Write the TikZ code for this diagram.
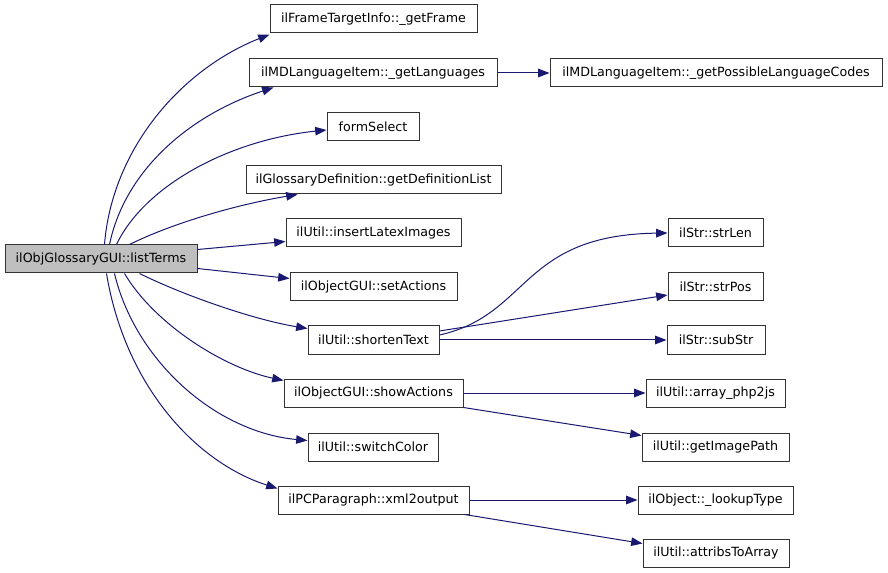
\documentclass[tikz,border=0pt]{standalone}
\usepackage{fontspec}
\setmainfont{DejaVu Sans}
\usetikzlibrary{arrows.meta,calc}
\definecolor{edgecol}{HTML}{191970}
\definecolor{mainfill}{HTML}{BFBFBF}
\tikzset{
  box/.style={draw=black!80, line width=0.75pt, fill=white, inner sep=0pt,
    minimum height=21pt, font=\fontsize{9.5pt}{11pt}\selectfont},
  bw/.style={minimum width=#1*0.75pt},
  e/.style={draw=edgecol, line width=0.75pt, -{Triangle[length=8.5pt,width=6.4pt]}, fill=none}
}
\begin{document}
\begin{tikzpicture}[x=0.75pt,y=-0.75pt]
\useasboundingbox (0,0) rectangle (888,573);
\node[box,bw=192,fill=mainfill] (main) at (101,259) {ilObjGlossaryGUI::listTerms};
\node[box,bw=207] (frame) at (373.5,19) {ilFrameTargetInfo::\_getFrame};
\node[box,bw=248] (lang) at (373,73) {ilMDLanguageItem::\_getLanguages};
\node[box,bw=92] (form) at (373,127) {formSelect};
\node[box,bw=255] (def) at (373.5,180) {ilGlossaryDefinition::getDefinitionList};
\node[box,bw=175] (latex) at (373.5,233) {ilUtil::insertLatexImages};
\node[box,bw=167] (setact) at (373.5,287) {ilObjectGUI::setActions};
\node[box,bw=131] (shorten) at (373.5,340) {ilUtil::shortenText};
\node[box,bw=179] (showact) at (373.5,393) {ilObjectGUI::showActions};
\node[box,bw=130] (switch) at (373,447) {ilUtil::switchColor};
\node[box,bw=191] (xml) at (373.5,500) {ilPCParagraph::xml2output};
\node[box,bw=332] (poss) at (716,73) {ilMDLanguageItem::\_getPossibleLanguageCodes};
\node[box,bw=95] (strlen) at (715.5,233) {ilStr::strLen};
\node[box,bw=95] (strpos) at (715.5,287) {ilStr::strPos};
\node[box,bw=98] (substr) at (716,340) {ilStr::subStr};
\node[box,bw=139] (php2js) at (715.5,393) {ilUtil::array\_php2js};
\node[box,bw=147] (imgpath) at (715.5,447) {ilUtil::getImagePath};
\node[box,bw=155] (lookup) at (715.5,500) {ilObject::\_lookupType};
\node[box,bw=146] (attribs) at (716,553) {ilUtil::attribsToArray};
% edges from main
\draw[e] ($(main.north west)+(100,0)$) .. controls (112,150) and (180,70) .. ($(frame.south west)+(0,1)$);
\draw[e] ($(main.north west)+(105,0)$) .. controls (125,170) and (190,115) .. ($(lang.south west)+(25,0)$);
\draw[e] ($(main.north west)+(112,0)$) .. controls (145,185) and (230,140) .. ($(form.west)+(0,3)$);
\draw[e] ($(main.north west)+(125,0)$) .. controls (175,222) and (240,204) .. ($(def.south west)+(52,0)$);
\draw[e] ($(main.north east)+(0,5)$) -- ($(latex.south west)+(0,-6)$);
\draw[e] ($(main.south east)+(0,-5)$) -- ($(setact.north west)+(0,6)$);
\draw[e] ($(main.south west)+(135,0)$) .. controls (185,296) and (255,320) .. ($(shorten.north west)+(0,3)$);
\draw[e] ($(main.south west)+(120,0)$) .. controls (155,325) and (225,368) .. ($(showact.north west)+(0,2)$);
\draw[e] ($(main.south west)+(110,0)$) .. controls (135,360) and (215,432) .. ($(switch.north west)+(0,8)$);
\draw[e] ($(main.south west)+(102,0)$) .. controls (125,385) and (195,462) .. ($(xml.north west)+(0,3)$);
% second level
\draw[e] (lang.east) -- (poss.west);
\draw[e] ($(shorten.east)+(0,-5)$) .. controls (530,315) and (520,235) .. (strlen.west);
\draw[e] ($(shorten.east)+(0,-9)$) -- ($(strpos.west)+(0,8)$);
\draw[e] (shorten.east) -- (substr.west);
\draw[e] (showact.east) -- (php2js.west);
\draw[e] (showact.south east) -- ($(imgpath.north west)+(0,3)$);
\draw[e] (xml.east) -- (lookup.west);
\draw[e] ($(xml.south east)+(-5,0)$) -- ($(attribs.north west)+(0,5)$);
\end{tikzpicture}
\end{document}
